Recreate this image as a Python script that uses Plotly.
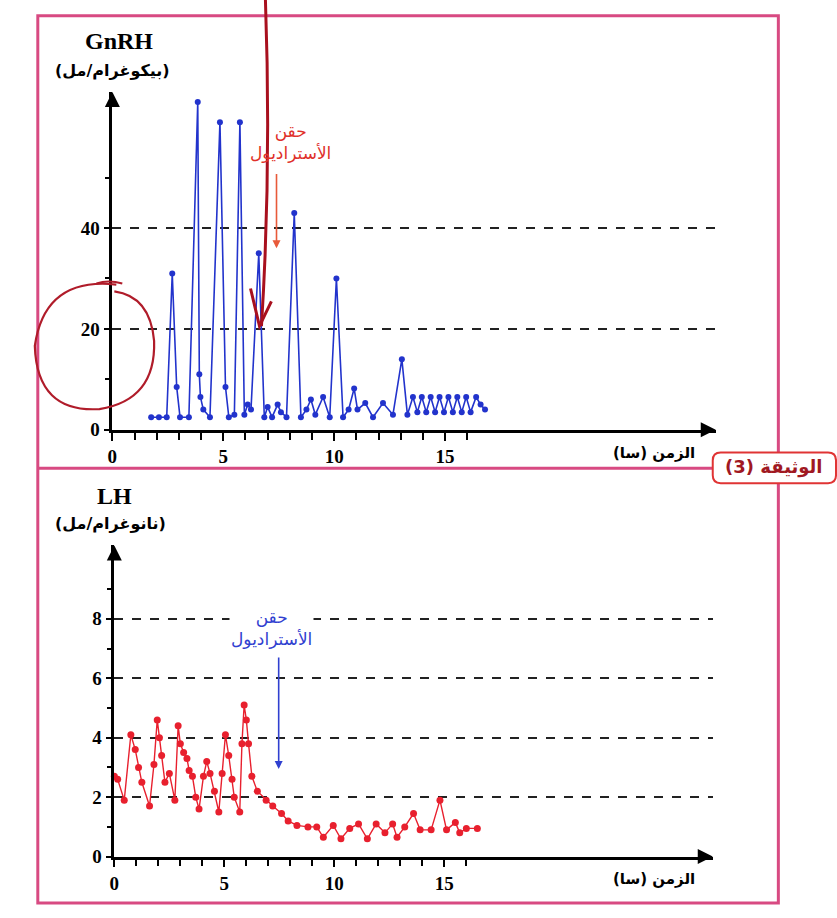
import plotly.graph_objects as go

W, H = 837, 918

# ---------------- data ----------------
gnrh_time = [1.75, 2.1, 2.45, 2.7, 2.9, 3.05, 3.45, 3.85, 3.92, 3.97, 4.1, 4.4,
             4.85, 5.1, 5.25, 5.5, 5.75, 5.95, 6.1, 6.25, 6.6, 6.85, 7.0, 7.2,
             7.45, 7.6, 7.85, 8.2, 8.5, 8.75, 8.95, 9.15, 9.5, 9.8, 10.1, 10.4,
             10.65, 10.9, 11.05, 11.4, 11.75, 12.2, 12.65, 13.05, 13.3, 13.55,
             13.75, 13.95, 14.15, 14.35, 14.55, 14.75, 14.95, 15.15, 15.35, 15.55,
             15.75, 15.95, 16.15, 16.4, 16.6, 16.8]
gnrh_value = [2.5, 2.5, 2.5, 31, 8.5, 2.5, 2.5, 65, 11, 6.5, 4, 2.5,
              61, 8.5, 2.5, 3, 61, 3, 5, 4, 35, 2.5, 4.5, 2.5,
              5, 3.5, 2.5, 43, 2.5, 4, 6, 3, 6.5, 2.5, 30, 2.5,
              4, 8.2, 4, 5.3, 2.5, 5.3, 3, 14, 3, 6.5,
              3.5, 6.5, 3.5, 6.5, 3.5, 6.5, 3.5, 6.5, 3.5, 6.5,
              3.5, 6.5, 3.5, 6.5, 5, 4]

lh_time = [0.0, 0.15, 0.45, 0.75, 0.95, 1.1, 1.25, 1.6, 1.8, 1.95, 2.05, 2.15,
           2.3, 2.5, 2.75, 2.9, 3.0, 3.15, 3.3, 3.4, 3.55, 3.7, 3.85, 4.05,
           4.2, 4.35, 4.55, 4.75, 4.9, 5.05, 5.2, 5.35, 5.45, 5.7, 5.8, 5.9,
           6.0, 6.1, 6.25, 6.5, 6.9, 7.2, 7.6, 7.9, 8.3, 8.8, 9.2, 9.5,
           9.95, 10.3, 10.7, 11.1, 11.5, 11.9, 12.3, 12.65, 12.85, 13.2, 13.6, 13.9,
           14.4, 14.8, 15.1, 15.5, 15.7, 16.0, 16.5]
lh_value = [2.7, 2.6, 1.9, 4.1, 3.6, 3.0, 2.5, 1.7, 3.1, 4.6, 4.0, 3.4,
            2.5, 2.8, 1.9, 4.4, 3.8, 3.5, 3.3, 2.9, 2.7, 2.0, 1.6, 2.7,
            3.2, 2.8, 2.2, 1.5, 2.8, 4.1, 3.4, 2.6, 2.0, 1.5, 3.8, 5.1,
            4.6, 3.8, 2.7, 2.2, 1.9, 1.7, 1.45, 1.2, 1.05, 1.0, 1.0, 0.65,
            1.05, 0.6, 0.95, 1.1, 0.6, 1.1, 0.8, 1.1, 0.65, 1.0, 1.45, 0.9,
            0.9, 1.9, 0.9, 1.15, 0.8, 0.95, 0.95]

x_tick_vals = [0, 5, 10, 15]
x_minor_vals = list(range(0, 17))
gnrh_y_ticks = [0, 20, 40]
gnrh_y_minor = [10, 30, 50]
lh_y_ticks = [0, 2, 4, 6, 8]
lh_y_minor = [1, 3, 5, 7, 9]

top_x_max, top_y_max = 27.2, 67
bot_x_max, bot_y_max = 27.2, 10.47

injection_time_top = 7.4
injection_time_bot = 7.47

# ---------------- helpers ----------------
def px(x):
    return x / W

def py(y):
    return 1 - y / H

tick_font = dict(family="Liberation Serif", size=19, color="black", weight="bold")
ar_font = "DejaVu Sans"

fig = go.Figure()

fig.add_trace(go.Scatter(
    x=gnrh_time, y=gnrh_value, mode="lines+markers",
    line=dict(color="#2233cc", width=1.6),
    marker=dict(color="#2233cc", size=6),
    xaxis="x", yaxis="y", showlegend=False, cliponaxis=False))

fig.add_trace(go.Scatter(
    x=lh_time, y=lh_value, mode="lines+markers",
    line=dict(color="#e8202e", width=1.4),
    marker=dict(color="#e8202e", size=7),
    xaxis="x2", yaxis="y2", showlegend=False, cliponaxis=False))

def xaxis_cfg(domain, rng, anchor):
    return dict(domain=domain, range=rng, anchor=anchor,
                showline=True, linecolor="black", linewidth=2.5,
                tickmode="array", tickvals=x_tick_vals,
                ticks="outside", ticklen=8, tickwidth=2, tickcolor="black",
                minor=dict(tickmode="array", tickvals=x_minor_vals, ticks="outside",
                           ticklen=7, tickwidth=1.6, tickcolor="black"),
                tickfont=tick_font, showgrid=False, zeroline=False, fixedrange=True)

def yaxis_cfg(domain, rng, anchor, tv, mv):
    return dict(domain=domain, range=rng, anchor=anchor,
                showline=True, linecolor="black", linewidth=2.5,
                tickmode="array", tickvals=tv,
                ticks="outside", ticklen=6, tickwidth=2, tickcolor="black",
                minor=dict(tickmode="array", tickvals=mv, ticks="outside",
                           ticklen=5, tickwidth=1.5, tickcolor="black"),
                tickfont=tick_font, showgrid=True, gridcolor="#222",
                gridwidth=1.6, griddash="dash", zeroline=False, fixedrange=True)

fig.update_layout(
    width=W, height=H, autosize=False,
    margin=dict(l=0, r=0, t=0, b=0),
    paper_bgcolor="white", plot_bgcolor="white",
    xaxis=xaxis_cfg([px(108), px(715)], [0, top_x_max], "y"),
    yaxis=yaxis_cfg([py(435), py(93)], [0, top_y_max], "x", gnrh_y_ticks, gnrh_y_minor),
    xaxis2=xaxis_cfg([px(110), px(712)], [0, bot_x_max], "y2"),
    yaxis2=yaxis_cfg([py(867), py(552)], [0, bot_y_max], "x2", lh_y_ticks, lh_y_minor),
)

ann = []
# axis arrows
for xr, yr, xm, ym in [("x", "y", top_x_max, top_y_max), ("x2", "y2", bot_x_max, bot_y_max)]:
    ann.append(dict(x=xm, y=0, xref=xr, yref=yr, ax=-14, ay=0, showarrow=True,
                    arrowhead=2, arrowsize=1.2, arrowwidth=2.5, arrowcolor="black", text=""))
    ann.append(dict(x=0, y=ym, xref=xr, yref=yr, ax=0, ay=14, showarrow=True,
                    arrowhead=2, arrowsize=1.2, arrowwidth=2.5, arrowcolor="black", text=""))

def txt(x, y, text, font, xref="paper", yref="paper", **kw):
    d = dict(x=x, y=y, xref=xref, yref=yref, text=text, showarrow=False,
             xanchor="center", yanchor="middle", font=font)
    d.update(kw)
    return d

serif_bold = dict(family="Liberation Serif", size=24, color="black", weight="bold")
ar_bold = dict(family=ar_font, size=16, color="black", weight="bold")
ar_axis = dict(family=ar_font, size=15, color="black", weight="bold")

# y titles
ann.append(txt(px(115), py(41), "GnRH", serif_bold))
ann.append(txt(px(108), py(71), "(بيكوغرام/مل)", ar_bold))
ann.append(txt(px(110), py(502), "LH", serif_bold))
ann.append(txt(px(106), py(530), "(نانوغرام/مل)", ar_bold))

# x titles
ann.append(txt(px(653), py(458), "الزمن (سا)", ar_axis))
ann.append(txt(px(653), py(890), "الزمن (سا)", ar_axis))

# injection annotations
ann.append(txt(8.05, 57, "حقن<br>الأستراديول",
               dict(family=ar_font, size=17, color="#e0302a"), xref="x", yref="y"))
ann.append(dict(x=injection_time_top, y=36, ax=injection_time_top, ay=51, xref="x", yref="y",
                axref="x", ayref="y", text="", showarrow=True, arrowhead=2, arrowsize=1,
                arrowwidth=1.6, arrowcolor="#e85a3a"))
ann.append(txt(7.15, 7.7, "حقن<br>الأستراديول",
               dict(family=ar_font, size=17, color="#3040d0"), xref="x2", yref="y2",
               bgcolor="white"))
ann.append(dict(x=injection_time_bot, y=2.95, ax=injection_time_bot, ay=6.75, xref="x2", yref="y2",
                axref="x2", ayref="y2", text="", showarrow=True, arrowhead=2, arrowsize=1,
                arrowwidth=1.6, arrowcolor="#3040d0"))

# document label
ann.append(txt(px(773), py(473), "الوثيقة (3)",
               dict(family=ar_font, size=18, color="#a01822", weight="bold")))

fig.update_layout(annotations=ann)

def P(x, y):
    return f"{px(x):.5f},{py(y):.5f}"

pink = "#d84a82"
shapes = [
    dict(type="rect", xref="paper", yref="paper", x0=px(33), x1=px(778), y0=py(914), y1=py(16),
         line=dict(color=pink, width=3), layer="below"),
    dict(type="line", xref="paper", yref="paper", x0=px(33), x1=px(778), y0=py(474), y1=py(474),
         line=dict(color=pink, width=3)),
    # rounded box for document label
    dict(type="path", xref="paper", yref="paper",
         path=("M " + P(720, 458) + " L " + P(828, 458) + " Q " + P(836, 458) + " " + P(836, 466) +
               " L " + P(836, 481) + " Q " + P(836, 489) + " " + P(828, 489) +
               " L " + P(720, 489) + " Q " + P(712, 489) + " " + P(712, 481) +
               " L " + P(712, 466) + " Q " + P(712, 458) + " " + P(720, 458) + " Z"),
         line=dict(color="#e03434", width=2), fillcolor="white", layer="above"),
    # hand-drawn red circle
    dict(type="path", xref="paper", yref="paper",
         path=("M " + P(112, 288) + " Q " + P(40, 280) + " " + P(30, 350) +
               " Q " + P(32, 418) + " " + P(95, 414) + " Q " + P(152, 405) + " " + P(150, 345) +
               " Q " + P(146, 300) + " " + P(110, 295)),
         line=dict(color="#b01c2a", width=2.2)),
    dict(type="path", xref="paper", yref="paper",
         path="M " + P(92, 287) + " Q " + P(104, 283) + " " + P(118, 287),
         line=dict(color="#b01c2a", width=2)),
    # hand-drawn dark red arrow
    dict(type="path", xref="paper", yref="paper",
         path="M " + P(262, 0) + " Q " + P(268, 170) + " " + P(258, 330),
         line=dict(color="#a8101e", width=3)),
    dict(type="path", xref="paper", yref="paper",
         path="M " + P(247, 292) + " L " + P(256, 330) + " L " + P(268, 305),
         line=dict(color="#a8101e", width=3)),
]
fig.update_layout(shapes=shapes)

fig.write_html("out.html")
